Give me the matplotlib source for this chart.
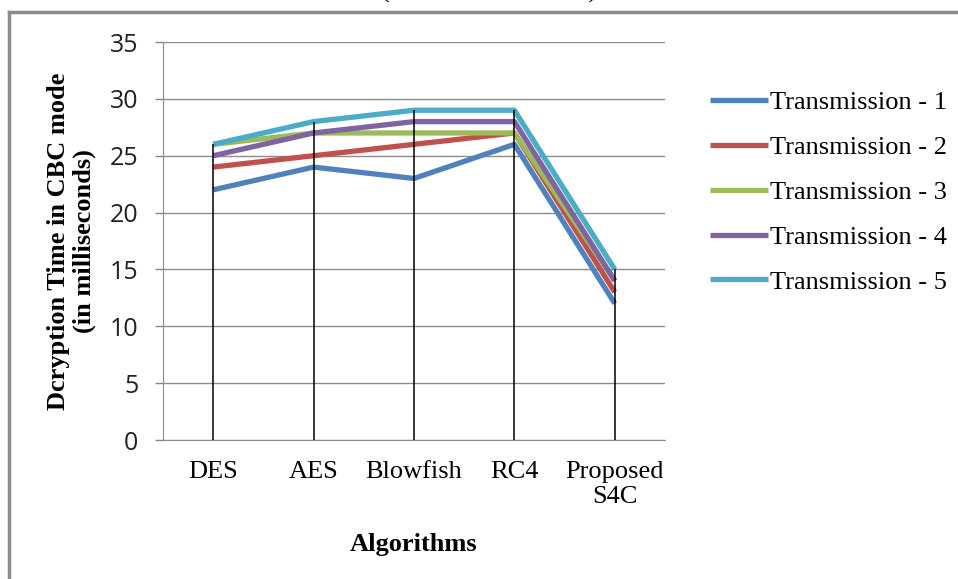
import matplotlib
matplotlib.use("Agg")
import matplotlib.pyplot as plt
from matplotlib.lines import Line2D

categories = ["DES", "AES", "Blowfish", "RC4", "Proposed\nS4C"]
series_names = ["Transmission - 1", "Transmission - 2", "Transmission - 3",
                "Transmission - 4", "Transmission - 5"]
t1 = [22, 24, 23, 26, 12]
t2 = [24, 25, 26, 27, 13]
t3 = [26, 27, 27, 27, 14]
t4 = [25, 27, 28, 28, 14]
t5 = [26, 28, 29, 29, 15]
series = [t1, t2, t3, t4, t5]
colors = ["#4F81BD", "#C0504D", "#9BBB59", "#8064A2", "#4BACC6"]
yticks = [0, 5, 10, 15, 20, 25, 30, 35]

W, H = 958, 579
fig = plt.figure(figsize=(W / 100, H / 100), dpi=100)
ax = fig.add_axes([163 / W, 1 - 440 / H, (665 - 163) / W, (440 - 42) / H])

xs = [i + 0.5 for i in range(len(categories))]
for vals, name, c in zip(series, series_names, colors):
    ax.plot(xs, vals, color=c, lw=3.8, label=name, solid_capstyle="butt", zorder=3)

tops = [max(v) for v in zip(*series)]
ax.vlines(xs, 0, tops, color="black", lw=1.1, zorder=4)

ax.set_xlim(0, len(categories))
ax.set_ylim(0, 35)
ax.set_yticks(yticks)
ax.set_yticklabels([str(v) for v in yticks], fontsize=18, family="Open Sans", color="#222222")
ax.set_xticks(xs)
ax.set_xticklabels(categories, fontsize=19, family="Liberation Serif", linespacing=1.2)
ax.tick_params(axis="x", length=0, pad=15)
ax.tick_params(axis="y", length=5.8, color="#888888", width=1, pad=12)
ax.grid(axis="y", color="#8c8c8c", lw=1)
ax.set_axisbelow(True)
for s in ["top", "right"]:
    ax.spines[s].set_visible(False)
for s in ["left", "bottom"]:
    ax.spines[s].set_color("#8c8c8c")

ax.set_ylabel("Dcryption Time in CBC mode\n(in milliseconds)", family="Liberation Serif",
              fontweight="bold", fontsize=19, labelpad=10, linespacing=1.12)
ax.set_xlabel("Algorithms", family="Liberation Serif", fontweight="bold", fontsize=19, labelpad=18)

leg = ax.legend(loc="upper left", bbox_to_anchor=(686 / W, 1 - 67 / H), bbox_transform=fig.transFigure,
                frameon=False, prop={"family": "Liberation Serif", "size": 19},
                handlelength=2.2, handletextpad=0.08, labelspacing=0.81)

fig.add_artist(Line2D([9 / W, 9 / W], [-0.1, 1 - 12 / H], transform=fig.transFigure,
                      color="#8c8c8c", lw=2.5))
fig.add_artist(Line2D([9 / W, 1.1], [1 - 12 / H, 1 - 12 / H], transform=fig.transFigure,
                      color="#8c8c8c", lw=2.5))
fig.text(489 / W, 1 + 2 / H, "(" + " " * 30 + ")", ha="center", va="baseline",
         family="Liberation Serif", fontsize=19)

fig.savefig("out.png", dpi=100)
